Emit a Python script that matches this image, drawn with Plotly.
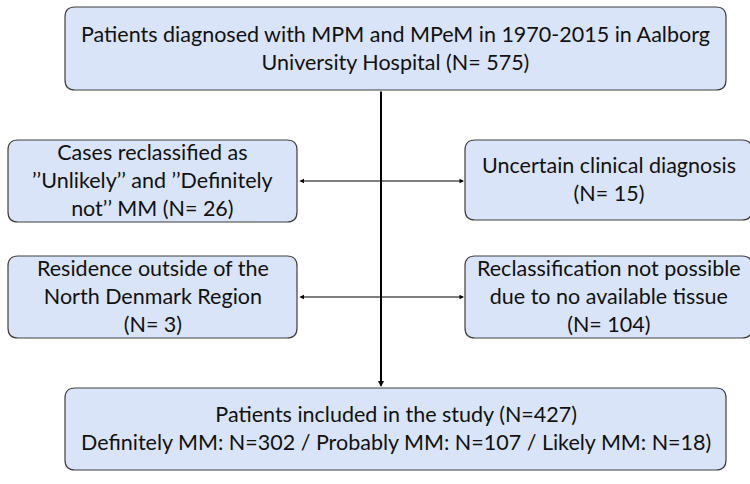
import plotly.graph_objects as go

# Flowchart content
box_texts = [
    "Patients diagnosed with MPM and MPeM in 1970-2015 in Aalborg<br>University Hospital (N= 575)",
    "Cases reclassified as<br>’’Unlikely’’ and ’’Definitely<br>not’’ MM (N= 26)",
    "Uncertain clinical diagnosis<br>(N= 15)",
    "Residence outside of the<br>North Denmark Region<br>(N= 3)",
    "Reclassification not possible<br>due to no available tissue<br>(N= 104)",
    "Patients included in the study (N=427)<br>Definitely MM: N=302 / Probably MM: N=107 / Likely MM: N=18)",
]
# box extents (x0, x1, y0, y1) in pixel space
box_x0 = [65, 8, 465, 8, 465, 65]
box_x1 = [726, 297, 752, 297, 752, 726]
box_y0 = [7, 140, 140, 256, 256, 388]
box_y1 = [90, 222, 220, 338, 338, 470]

FILL = "#d9e4f8"
EDGE = "#3f3f3f"
FONT = "Lato"
FSIZE = 21.5


def rounded(x0, x1, y0, y1, r=10):
    return (f"M {x0+r},{y0} L {x1-r},{y0} Q {x1},{y0} {x1},{y0+r} "
            f"L {x1},{y1-r} Q {x1},{y1} {x1-r},{y1} L {x0+r},{y1} "
            f"Q {x0},{y1} {x0},{y1-r} L {x0},{y0+r} Q {x0},{y0} {x0+r},{y0} Z")


fig = go.Figure()
shapes = []
annotations = []
for t, x0, x1, y0, y1 in zip(box_texts, box_x0, box_x1, box_y0, box_y1):
    shapes.append(dict(type="path", path=rounded(x0, x1, y0, y1), xref="x", yref="y",
                       fillcolor=FILL, line=dict(color=EDGE, width=1.2), layer="below"))
    annotations.append(dict(x=(x0 + x1) / 2, y=(y0 + y1) / 2 - 1, xref="x", yref="y", text=t,
                            showarrow=False, font=dict(family=FONT, size=FSIZE, color="#111111"),
                            align="center"))

# vertical main arrow
annotations.append(dict(x=381, y=387, ax=381, ay=90, xref="x", yref="y", axref="x", ayref="y",
                        text="", showarrow=True, arrowhead=2, arrowsize=0.6, arrowwidth=2,
                        arrowcolor="black"))
# horizontal double arrows
for yy in [181, 297]:
    annotations.append(dict(x=464, y=yy, ax=298, ay=yy, xref="x", yref="y", axref="x", ayref="y",
                            text="", showarrow=True, arrowhead=2, startarrowhead=2,
                            arrowside="end+start", arrowsize=0.9, startarrowsize=0.9,
                            arrowwidth=1, arrowcolor="black"))

fig.update_layout(
    width=750, height=484, margin=dict(l=0, r=0, t=0, b=0),
    paper_bgcolor="white", plot_bgcolor="white",
    xaxis=dict(range=[0, 750], visible=False, fixedrange=True),
    yaxis=dict(range=[484, 0], visible=False, fixedrange=True),
    shapes=shapes, annotations=annotations, showlegend=False,
)
fig.write_html("out.html", config={"displayModeBar": False},
               post_script="document.body.style.margin='0';")
